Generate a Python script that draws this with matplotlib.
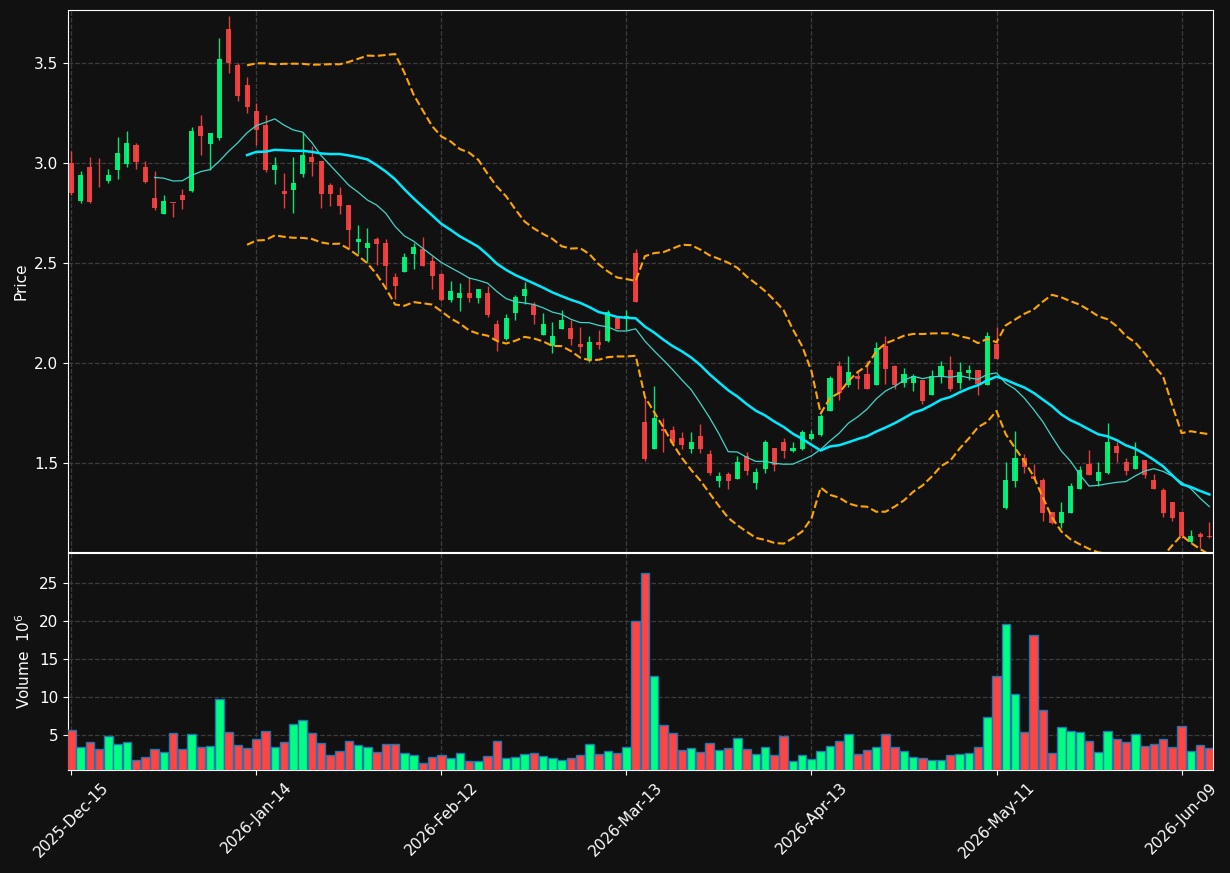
import numpy as np, pandas as pd
from matplotlib import pyplot as plt

holidays = ["2025-12-25", "2026-01-01", "2026-01-19", "2026-02-16", "2026-04-03", "2026-05-25"]
dates = pd.bdate_range("2025-12-15", "2026-06-12", freq = "C", holidays = holidays)

opens = [3.00, 2.81, 2.98, 2.90, 2.908, 2.967, 2.997, 3.092, 2.982, 2.827, 2.747, 2.802, 2.842, 2.862, 3.187, 3.097, 3.127, 3.672, 3.492, 3.392,
         3.262, 3.19, 2.965, 2.86, 2.865, 2.945, 3.03, 3.01, 2.89, 2.84, 2.79, 2.605, 2.577, 2.62, 2.60, 2.43, 2.455, 2.545, 2.57, 2.51,
         2.445, 2.315, 2.325, 2.35, 2.325, 2.35, 2.195, 2.12, 2.25, 2.335, 2.29, 2.14, 2.085, 2.17, 2.175, 2.095, 2.015, 2.105, 2.11, 2.225,
         2.22, 2.55, 1.705, 1.57, 1.67, 1.665, 1.625, 1.57, 1.635, 1.545, 1.41, 1.445, 1.42, 1.535, 1.40, 1.47, 1.575, 1.605, 1.56, 1.57,
         1.62, 1.64, 1.76, 1.985, 1.89, 1.935, 1.945, 1.89, 2.085, 1.985, 1.90, 1.90, 1.915, 1.84, 1.93, 1.965, 1.90, 1.95, 1.965, 1.89,
         2.095, 1.275, 1.412, 1.525, 1.435, 1.415, 1.255, 1.20, 1.252, 1.372, 1.495, 1.412, 1.45, 1.585, 1.505, 1.472, 1.515, 1.415, 1.365, 1.305,
         1.255, 1.105, 1.145, 1.135]
highs = [3.06, 2.96, 3.03, 3.025, 2.97, 3.13, 3.162, 3.10, 3.012, 2.96, 2.84, 2.802, 2.87, 3.18, 3.24, 3.152, 3.625, 3.737, 3.50, 3.43,
         3.30, 3.24, 3.028, 2.948, 3.028, 3.157, 3.087, 3.01, 2.90, 2.88, 2.79, 2.69, 2.673, 2.63, 2.618, 2.448, 2.552, 2.598, 2.628, 2.535,
         2.448, 2.41, 2.40, 2.428, 2.37, 2.385, 2.215, 2.243, 2.34, 2.405, 2.305, 2.252, 2.205, 2.265, 2.215, 2.18, 2.135, 2.165, 2.265, 2.235,
         2.265, 2.568, 1.832, 1.885, 1.725, 1.685, 1.655, 1.655, 1.695, 1.565, 1.455, 1.455, 1.533, 1.555, 1.475, 1.615, 1.575, 1.625, 1.605, 1.665,
         1.665, 1.745, 1.935, 2.01, 2.033, 1.955, 2.01, 2.105, 2.135, 1.99, 1.975, 1.945, 1.915, 1.965, 2.01, 2.035, 2.005, 1.99, 1.965, 2.155,
         2.182, 1.503, 1.66, 1.545, 1.493, 1.425, 1.255, 1.305, 1.398, 1.485, 1.565, 1.503, 1.698, 1.605, 1.525, 1.605, 1.515, 1.445, 1.375, 1.305,
         1.255, 1.165, 1.155, 1.205]
lows = [2.84, 2.80, 2.80, 2.878, 2.898, 2.918, 2.978, 2.968, 2.898, 2.767, 2.747, 2.73, 2.768, 2.857, 3.038, 2.967, 3.113, 3.45, 3.308, 3.25,
        3.09, 2.957, 2.895, 2.777, 2.748, 2.93, 2.937, 2.777, 2.787, 2.747, 2.573, 2.545, 2.507, 2.488, 2.382, 2.318, 2.455, 2.468, 2.485, 2.368,
        2.312, 2.307, 2.262, 2.305, 2.302, 2.232, 2.062, 2.115, 2.215, 2.295, 2.195, 2.14, 2.052, 2.17, 2.09, 2.052, 2.005, 2.072, 2.105, 2.17,
        2.165, 2.305, 1.512, 1.57, 1.553, 1.585, 1.572, 1.552, 1.552, 1.44, 1.38, 1.372, 1.42, 1.44, 1.372, 1.45, 1.462, 1.525, 1.555, 1.565,
        1.615, 1.635, 1.76, 1.815, 1.882, 1.872, 1.87, 1.89, 1.893, 1.872, 1.88, 1.86, 1.793, 1.84, 1.90, 1.86, 1.87, 1.915, 1.84, 1.89,
        2.02, 1.27, 1.382, 1.448, 1.418, 1.212, 1.195, 1.175, 1.252, 1.372, 1.442, 1.385, 1.445, 1.503, 1.442, 1.472, 1.425, 1.372, 1.232, 1.212,
        1.125, 1.10, 1.075, 1.125]
closes = [2.85, 2.94, 2.805, 2.898, 2.942, 3.052, 3.102, 3.007, 2.907, 2.777, 2.812, 2.80, 2.817, 3.162, 3.137, 3.152, 3.522, 3.498, 3.337, 3.278,
          3.167, 2.965, 2.99, 2.847, 2.90, 3.04, 3.005, 2.845, 2.845, 2.785, 2.665, 2.62, 2.60, 2.595, 2.485, 2.385, 2.53, 2.58, 2.485, 2.435,
          2.315, 2.36, 2.35, 2.325, 2.37, 2.24, 2.115, 2.225, 2.33, 2.37, 2.24, 2.195, 2.135, 2.215, 2.12, 2.08, 2.105, 2.09, 2.255, 2.17,
          2.235, 2.305, 1.52, 1.725, 1.66, 1.60, 1.59, 1.605, 1.57, 1.45, 1.435, 1.41, 1.505, 1.46, 1.455, 1.605, 1.49, 1.56, 1.575, 1.655,
          1.645, 1.735, 1.925, 1.85, 1.955, 1.92, 1.87, 2.075, 1.97, 1.89, 1.945, 1.935, 1.81, 1.935, 1.985, 1.87, 1.955, 1.965, 1.895, 2.135,
          2.02, 1.415, 1.525, 1.482, 1.422, 1.252, 1.202, 1.255, 1.385, 1.465, 1.442, 1.455, 1.605, 1.552, 1.462, 1.535, 1.442, 1.372, 1.252, 1.225,
          1.135, 1.135, 1.132, 1.132]
volumes = [5.6, 3.4, 4.1, 3.2, 4.9, 3.8, 4.1, 1.7, 2.1, 3.2, 2.8, 5.3, 3.2, 5.1, 3.4, 3.55, 9.7, 5.4, 3.7, 3.3,
           4.5, 5.5, 3.4, 4.1, 6.45, 7.0, 5.3, 3.95, 2.4, 2.9, 4.2, 3.7, 3.4, 2.8, 3.8, 3.8, 2.6, 2.4, 1.3, 2.1,
           2.4, 2.0, 2.6, 1.6, 1.6, 2.2, 4.2, 2.0, 2.1, 2.5, 2.6, 2.2, 2.0, 1.7, 2.0, 2.4, 3.8, 2.5, 2.9, 2.6,
           3.4, 20.0, 26.3, 12.8, 6.3, 5.3, 3.0, 3.3, 2.8, 3.95, 3.0, 3.3, 4.6, 3.2, 2.5, 3.4, 2.4, 4.9, 1.6, 2.4,
           1.85, 2.9, 3.55, 4.2, 5.1, 2.5, 3.0, 3.4, 5.1, 3.4, 2.9, 2.1, 2.0, 1.7, 1.7, 2.4, 2.5, 2.6, 3.4, 7.4,
           12.8, 19.6, 10.4, 5.4, 18.2, 8.3, 2.6, 6.05, 5.5, 5.4, 4.2, 2.8, 5.5, 4.5, 4.1, 5.1, 3.55, 3.8, 4.5, 3.4,
           6.2, 2.9, 3.7, 3.3]

o, h, l, c, v = map(np.array, (opens, highs, lows, closes, volumes))
x = np.arange(len(c))
up_c, dn_c, bg = "#00ff80", "#ff4444", "#111111"
cols = np.where(c >= o, up_c, dn_c)

cs = pd.Series(c)
mav10 = cs.rolling(10).mean(); mav20 = cs.rolling(20).mean(); sd20 = cs.rolling(20).std(ddof = 0)

plt.rcParams.update({"font.size": 11, "text.color": "white", "axes.labelcolor": "white",
                     "xtick.color": "white", "ytick.color": "white"})
fig = plt.figure(figsize = (12.3, 8.73), dpi = 100, facecolor = bg)
ax = fig.add_axes([0.0553, 0.3677, 0.9309, 0.6208], facecolor = bg)
axv = fig.add_axes([0.0553, 0.118, 0.9309, 0.2486], facecolor = bg, sharex = ax)

# candles
ax.vlines(x, l, h, colors = cols, lw = 1, alpha = 0.9, zorder = 3)
ax.bar(x, np.maximum(np.abs(c - o), 0.004), bottom = np.minimum(o, c), width = 0.55, color = cols, alpha = 0.9, lw = 0, zorder = 3)
ax.plot(x, mav10, c = "#3fd6c8", lw = 0.9, zorder = 4)
ax.plot(x, mav20, c = "#00eaff", lw = 1.8, zorder = 4)
ax.plot(x, mav20 + 2 * sd20, c = "#ffa500", lw = 1.5, ls = "--", zorder = 4)
ax.plot(x, mav20 - 2 * sd20, c = "#ffa500", lw = 1.5, ls = "--", zorder = 4)
ax.set_ylim(1.055, 3.765); ax.set_ylabel("Price")
ax.set_yticks([1.5, 2.0, 2.5, 3.0, 3.5])

# volume
axv.bar(x, v, width = 0.92, color = cols, edgecolor = "#1f77b4", lw = 1, zorder = 3)
axv.set_ylim(0.3 * v.min(), 1.1 * v.max()); axv.set_ylabel("Volume  $10^{6}$")
axv.set_yticks([5, 10, 15, 20, 25])

ticks = np.arange(0, len(x), 20)
axv.set_xticks(ticks); axv.set_xticklabels([dates[i].strftime("%Y-%b-%d") for i in ticks], rotation = 45)
ax.set_xlim(-0.35, len(x) - 0.6)
plt.setp(ax.get_xticklabels(), visible = False); ax.tick_params(axis = "x", length = 0)

for a in (ax, axv):
    a.grid(True, ls = "--", c = "#3c3c3c", lw = 0.9, zorder = 0)
    for s in a.spines.values(): s.set_color("white")

fig.savefig("out.png", facecolor = bg)
